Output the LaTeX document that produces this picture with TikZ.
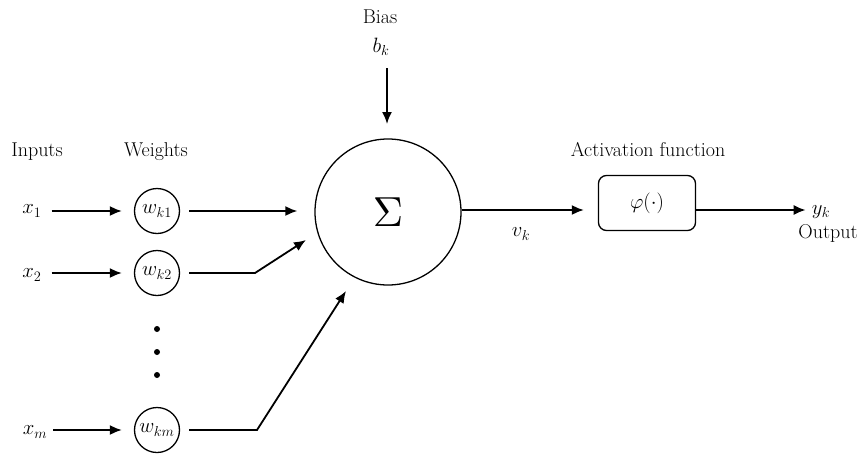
\documentclass[tikz,border=0pt]{standalone}
\usepackage{graphicx}
\usetikzlibrary{arrows.meta}
\begin{document}
\begin{tikzpicture}[x=1pt,y=-1pt,
  lbl/.style={font=\fontsize{20}{24}\selectfont, inner sep=0pt},
  mth/.style={font=\fontsize{20.74}{24}\selectfont, inner sep=0pt},
  wcirc/.style={draw, line width=1.3pt, circle, minimum size=45pt, inner sep=0pt, font=\fontsize{20.74}{24}\selectfont},
  dotn/.style={circle, fill, minimum size=6pt, inner sep=0pt},
  arr/.style={line width=1.8pt, -{Latex[length=12pt,width=10pt]}}
]
\useasboundingbox (0,0) rectangle (860,453);

% labels
\node[lbl] (bias) at (380,17) {Bias};
\node[mth] (bk) at (381,47) {$b_k$};
\node[lbl] (inputs) at (37,152) {Inputs};
\node[lbl] (weights) at (156,152) {Weights};
\node[lbl] (actlbl) at (648,150) {Activation function};

% sum node
\node[draw, circle, line width=1.3pt, minimum size=146pt, inner sep=0pt]
      (sigma) at (388,212) {\scalebox{4.2}{$\Sigma$}};

% inputs
\node[mth] (x1) at (32,211) {$x_1$};
\node[mth] (x2) at (32,275) {$x_2$};
\node[mth] (xm) at (35,432) {$x_m$};

% weights
\node[wcirc] (w1) at (157,211) {$w_{k1}$};
\node[wcirc] (w2) at (157,273) {$w_{k2}$};
\node[wcirc] (wm) at (157,430) {$w_{km}$};

% dots
\node[dotn] (d1) at (157,329) {};
\node[dotn] (d2) at (157,352) {};
\node[dotn] (d3) at (157,375) {};

% activation box
\node[draw, rounded corners=8pt, line width=1.3pt, minimum width=97pt, minimum height=55pt,
      font=\fontsize{20.74}{24}\selectfont] (phi) at (647,203) {$\varphi(\cdot)$};

% outputs
\node[mth] (yk) at (821,212) {$y_k$};
\node[lbl] (outlbl) at (828,233) {Output};
\node[mth] (vk) at (521,234) {$v_k$};

% coordinates for bends
\coordinate (bs) at (387,68);
\coordinate (be) at (387,124);
\coordinate (k2) at (255,273);
\coordinate (e2) at (306,240);
\coordinate (km) at (257,430);
\coordinate (em) at (346,291);

% connectors
\draw[arr] (bs) -- (be);
\draw[arr, shorten <=10pt, shorten >=12pt] (x1.east |- w1.west) -- (w1.west);
\draw[arr, shorten <=10pt, shorten >=12pt] (x2.east |- w2.west) -- (w2.west);
\draw[arr, shorten <=6pt, shorten >=12pt] (xm.east |- wm.west) -- (wm.west);
\draw[arr, shorten <=9pt, shorten >=17pt] (w1.east) -- (w1.east -| sigma.west);
\draw[arr, shorten <=9pt] (w2.east) -- (k2) -- (e2);
\draw[arr, shorten <=9pt] (wm.east) -- (km) -- (em);
\draw[arr, shorten >=14pt] (sigma.east |- 0,210) -- (phi.west |- 0,210);
\draw[arr, shorten >=6pt] (phi.east |- 0,210) -- (yk.west |- 0,210);
\end{tikzpicture}
\end{document}
